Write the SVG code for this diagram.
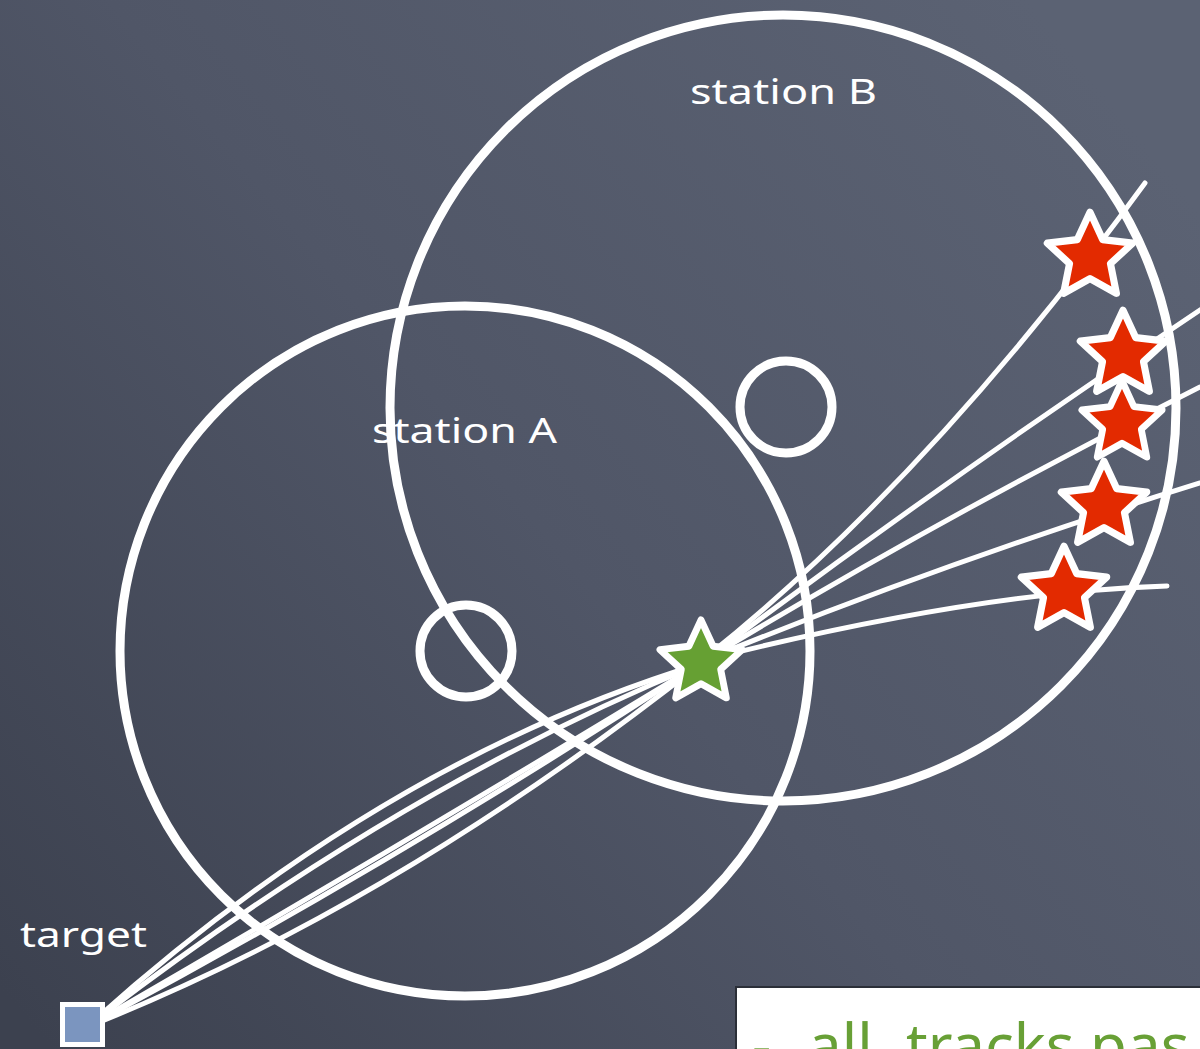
<svg xmlns="http://www.w3.org/2000/svg" width="1200" height="1049" viewBox="0 0 1200 1049">
<defs>
<linearGradient id="bg" gradientUnits="userSpaceOnUse" x1="1150" y1="150" x2="50" y2="1049">
<stop offset="0" stop-color="#5b6273"/>
<stop offset="0.5" stop-color="#505667"/>
<stop offset="1" stop-color="#3c414f"/>
</linearGradient>
<path id="star" d="M0,-44 L12.4,-17.07 L41.85,-13.6 L20.07,6.52 L25.86,35.6 L0,21.1 L-25.86,35.6 L-20.07,6.52 L-41.85,-13.6 L-12.4,-17.07 Z"/>
</defs>
<style>
.ring{fill:none;stroke:#ffffff;stroke-width:9}
.hole{fill:none;stroke:#ffffff;stroke-width:9}
.trk{fill:none;stroke:#ffffff;stroke-width:5;stroke-linecap:round}
.red{fill:#e32a00;stroke:#ffffff;stroke-width:7;stroke-linejoin:round}
.grn{fill:#66a033;stroke:#ffffff;stroke-width:7;stroke-linejoin:round}
.lbl{font-family:"Noto Sans","DejaVu Sans",sans-serif;font-size:34px;fill:#ffffff}
.note{font-family:"Noto Sans","DejaVu Sans",sans-serif;font-size:60px;fill:#68a036}
</style>
<rect x="0" y="0" width="1200" height="1049" fill="url(#bg)"/>

<g id="station-A">
<circle class="ring" cx="465" cy="651" r="345"/>
<circle class="hole" cx="466" cy="651" r="46"/>
<text class="lbl" x="372" y="443" textLength="185" lengthAdjust="spacingAndGlyphs">station A</text>
</g>
<g id="station-B">
<circle class="ring" cx="783" cy="408" r="393"/>
<circle class="hole" cx="786" cy="407" r="46"/>
<text class="lbl" x="690" y="104" textLength="187" lengthAdjust="spacingAndGlyphs">station B</text>
</g>

<g id="connectors">
<path class="trk" d="M87,1027 Q380,762 700,664"/>
<path class="trk" d="M87,1027 Q393,790 700,664"/>
<path class="trk" d="M87,1027 Q393,850 700,664"/>
<path class="trk" d="M87,1027 Q393,864 700,664"/>
<path class="trk" d="M87,1027 Q393,906 700,664"/>
<path class="trk" d="M705,658 Q929,479 1145,183"/>
<path class="trk" d="M705,660 Q945,480 1200,310"/>
<path class="trk" d="M705,660 Q945,515 1200,387"/>
<path class="trk" d="M705,660 Q945,562 1200,483"/>
<path class="trk" d="M705,660 Q976,592 1167,586"/>
</g>

<g id="target">
<rect x="62.5" y="1004.5" width="40" height="40" fill="#7b95bf" stroke="#ffffff" stroke-width="5"/>
<text class="lbl" x="20" y="947" textLength="127" lengthAdjust="spacingAndGlyphs">target</text>
</g>

<g id="vertex">
<use href="#star" class="grn" transform="translate(701,663) scale(0.98)"/>
</g>
<g id="hit-1"><use href="#star" class="red" transform="translate(1090,257) scale(1.02)"/></g>
<g id="hit-2"><use href="#star" class="red" transform="translate(1123,355) scale(1.02)"/></g>
<g id="hit-3"><use href="#star" class="red" transform="translate(1122,423) scale(0.96)"/></g>
<g id="hit-4"><use href="#star" class="red" transform="translate(1104,506) scale(1.02)"/></g>
<g id="hit-5"><use href="#star" class="red" transform="translate(1064,591) scale(1.02)"/></g>

<g id="note">
<rect x="736" y="987" width="480" height="80" fill="#ffffff" stroke="#2b2f38" stroke-width="2"/>
<text class="note" y="1067"><tspan x="752">-</tspan><tspan x="808">all</tspan><tspan x="906">tracks pas</tspan></text>
</g>
</svg>
